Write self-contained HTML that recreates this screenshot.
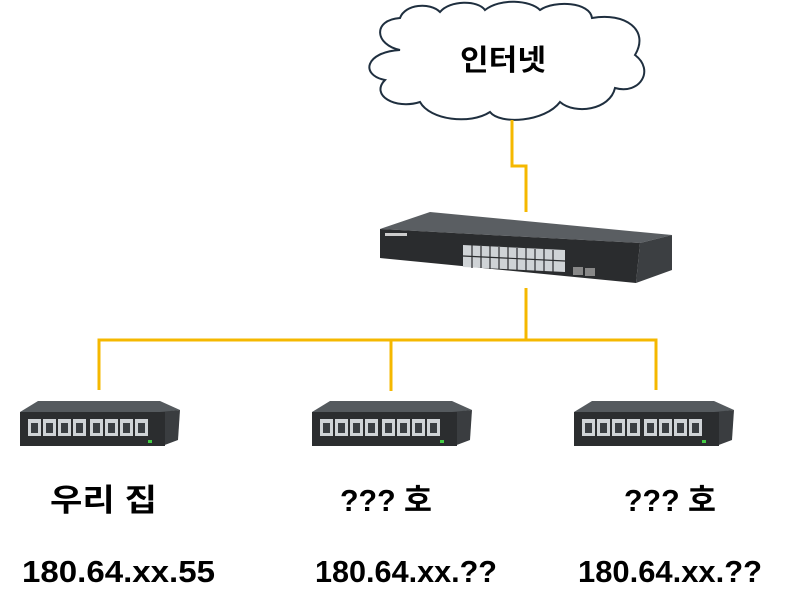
<!DOCTYPE html>
<html><head><meta charset="utf-8"><style>
body{margin:0;background:#fff}
svg{display:block}
text{font-family:"Liberation Sans","Noto Sans CJK KR",sans-serif;font-weight:bold;fill:#000}
</style></head><body>
<svg width="796" height="612" viewBox="0 0 796 612" xmlns="http://www.w3.org/2000/svg">
<defs>
<g id="sw">
 <polygon points="0,12 18,1 140,1 160,10 145,12" fill="#555a5e"/>
 <polygon points="140,12 160,10 158,40 142,46" fill="#3a3d40"/>
 <rect x="0" y="12" width="145" height="34" fill="#2b2d2f"/>
 <g fill="#cfd3d6">
  <rect x="8" y="19" width="13" height="17"/><rect x="23" y="19" width="13" height="17"/>
  <rect x="38" y="19" width="13" height="17"/><rect x="53" y="19" width="13" height="17"/>
  <rect x="70" y="19" width="13" height="17"/><rect x="85" y="19" width="13" height="17"/>
  <rect x="100" y="19" width="13" height="17"/><rect x="115" y="19" width="13" height="17"/>
 </g>
 <g fill="#3a3e42">
  <rect x="11" y="23" width="7" height="10"/><rect x="26" y="23" width="7" height="10"/>
  <rect x="41" y="23" width="7" height="10"/><rect x="56" y="23" width="7" height="10"/>
  <rect x="73" y="23" width="7" height="10"/><rect x="88" y="23" width="7" height="10"/>
  <rect x="103" y="23" width="7" height="10"/><rect x="118" y="23" width="7" height="10"/>
 </g>
 <rect x="128" y="40" width="4" height="3" fill="#4c4"/>
</g>
</defs>
<!-- cloud -->
<path d="M400,50 C375,45 372,20 400,18 C405,4 430,2 440,12 C450,0 478,0 485,10 C500,-2 530,0 540,10 C555,0 590,2 592,18 C625,12 650,30 635,55 C655,70 640,95 615,88 C610,110 575,115 560,102 C545,122 500,125 490,112 C470,125 430,120 420,102 C395,110 370,95 385,80 C360,75 365,52 400,50 Z" fill="#fff" stroke="#1f2f3f" stroke-width="2"/>
<text x="460" y="70" font-size="29" textLength="86" lengthAdjust="spacingAndGlyphs">인터넷</text>
<!-- lines -->
<g stroke="#f5b800" stroke-width="3" fill="none">
 <polyline points="512,120 512,166 526,166 526,212"/>
 <line x1="526" y1="288" x2="526" y2="340"/>
 <polyline points="99,390 99,340 656,340 656,390"/>
 <line x1="391" y1="340" x2="391" y2="391"/>
</g>
<!-- big switch -->
<polygon points="380,229 430,212 672,235 640,243" fill="#5a5e62"/>
<polygon points="640,243 672,235 672,270 636,283" fill="#3c3f42"/>
<polygon points="380,229 640,243 636,283 380,258" fill="#2a2c2e"/>
<polygon points="463,245 565,250 565,272 463,267" fill="#cfd3d6"/>
<g stroke="#2a2c2e" stroke-width="1.2">
 <line x1="463" y1="256" x2="565" y2="261"/>
 <line x1="472" y1="245" x2="472" y2="268"/><line x1="481" y1="246" x2="481" y2="268"/>
 <line x1="490" y1="246" x2="490" y2="269"/><line x1="499" y1="247" x2="499" y2="269"/>
 <line x1="508" y1="247" x2="508" y2="270"/><line x1="517" y1="248" x2="517" y2="270"/>
 <line x1="526" y1="248" x2="526" y2="271"/><line x1="535" y1="249" x2="535" y2="271"/>
 <line x1="544" y1="249" x2="544" y2="272"/><line x1="553" y1="250" x2="553" y2="272"/>
</g>
<rect x="573" y="267" width="10" height="8" fill="#888"/><rect x="585" y="268" width="10" height="8" fill="#888"/>
<rect x="385" y="233" width="22" height="3" fill="#ccc"/>
<!-- small switches -->
<use href="#sw" x="20" y="400"/>
<use href="#sw" x="312" y="400"/>
<use href="#sw" x="574" y="400"/>
<!-- labels -->
<text x="50" y="511" font-size="31" textLength="107" lengthAdjust="spacingAndGlyphs">우리 집</text>
<text x="340" y="511" font-size="31" textLength="92" lengthAdjust="spacingAndGlyphs">??? 호</text>
<text x="624" y="511" font-size="31" textLength="92" lengthAdjust="spacingAndGlyphs">??? 호</text>
<text x="22" y="582" font-size="31" textLength="193" lengthAdjust="spacingAndGlyphs">180.64.xx.55</text>
<text x="315" y="582" font-size="31" textLength="182" lengthAdjust="spacingAndGlyphs">180.64.xx.??</text>
<text x="578" y="582" font-size="31" textLength="184" lengthAdjust="spacingAndGlyphs">180.64.xx.??</text>
</svg>
</body></html>
